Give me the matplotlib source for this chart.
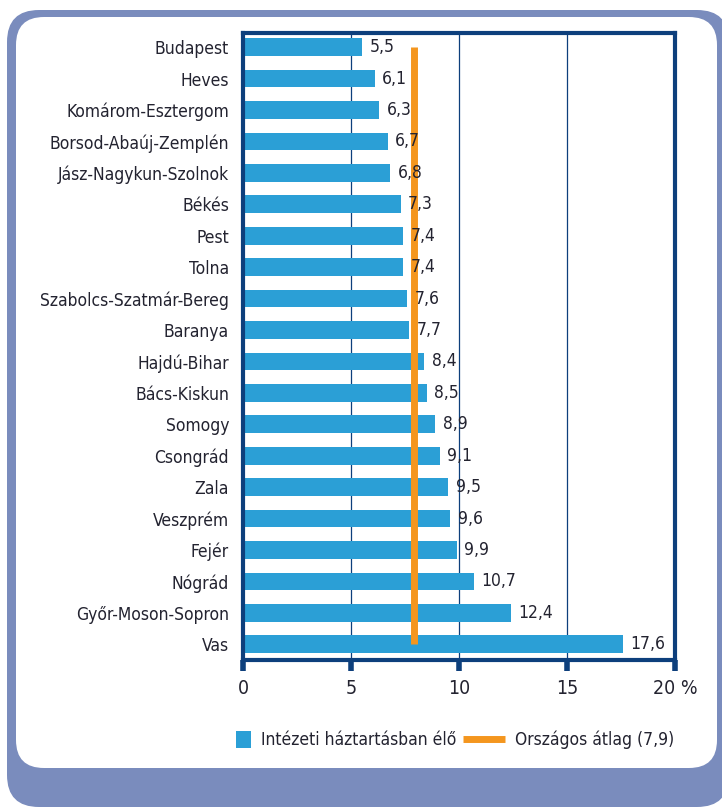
import matplotlib
matplotlib.use("Agg")

import matplotlib.pyplot as plt
from matplotlib.patches import FancyBboxPatch, Patch
from matplotlib.transforms import IdentityTransform
from matplotlib.lines import Line2D

plt.rcParams["font.family"] = ["DejaVu Sans"]
plt.rcParams["font.stretch"] = "condensed"

regions = ["Budapest", "Heves", "Komárom-Esztergom", "Borsod-Abaúj-Zemplén",
           "Jász-Nagykun-Szolnok", "Békés", "Pest", "Tolna",
           "Szabolcs-Szatmár-Bereg", "Baranya", "Hajdú-Bihar", "Bács-Kiskun",
           "Somogy", "Csongrád", "Zala", "Veszprém", "Fejér", "Nógrád",
           "Győr-Moson-Sopron", "Vas"]
values = [5.5, 6.1, 6.3, 6.7, 6.8, 7.3, 7.4, 7.4, 7.6, 7.7,
          8.4, 8.5, 8.9, 9.1, 9.5, 9.6, 9.9, 10.7, 12.4, 17.6]
national_avg = 7.9
x_ticks = [0, 5, 10, 15, 20]
x_ticklabels = ["0", "5", "10", "15", "20 %"]

BAR = "#2b9fd6"
ORANGE = "#f4961e"
NAVY = "#0d3f7c"
FRAME = "#7a8cbd"
TXT = "#232330"

fig = plt.figure(figsize=(7.22, 8.10), dpi=100)

# keret (pixelben, bal alsó sarokból)
outer = FancyBboxPatch((7, 3), 722, 797, boxstyle="round,pad=0,rounding_size=32",
                       transform=IdentityTransform(), facecolor=FRAME,
                       edgecolor="none", zorder=-10)
inner = FancyBboxPatch((16, 42), 701, 751, boxstyle="round,pad=0,rounding_size=28",
                       transform=IdentityTransform(), facecolor="white",
                       edgecolor="none", zorder=-9)
fig.patches.extend([outer, inner])

ax = fig.add_axes([243 / 722, 1 - 660 / 810, 432 / 722, 627 / 810])
ax.set_facecolor("none")

ypos = list(range(len(regions)))
ax.barh(ypos, values, height=0.56, color=BAR, zorder=2)
ax.plot([national_avg, national_avg], [0, len(regions) - 1], color=ORANGE,
        lw=5, solid_capstyle="butt", zorder=3)

for y, v in zip(ypos, values):
    ax.text(v + 0.35, y, f"{v:.1f}".replace(".", ","), va="center", ha="left",
            fontsize=12.5, color=TXT, zorder=4)

ax.set_xlim(0, 20)
ax.set_ylim(len(regions) - 0.5, -0.45)
ax.set_yticks(ypos)
ax.set_yticklabels(regions, fontsize=12.5, color=TXT)
ax.set_xticks(x_ticks)
ax.set_xticklabels(x_ticklabels, fontsize=14, color=TXT)

ax.tick_params(axis="y", length=0, pad=10)
ax.tick_params(axis="x", direction="out", length=8, width=4, color=NAVY, pad=6)

for s in ax.spines.values():
    s.set_color(NAVY)
    s.set_linewidth(3)

ax.grid(axis="x", color=NAVY, lw=0.9, zorder=1)
ax.set_axisbelow(True)

# két külön jelmagyarázat, hogy a kék négyzet rövid legyen
leg_y = 1 - 740 / 810
fig.legend(handles=[Patch(facecolor=BAR, edgecolor="none",
                          label="Intézeti háztartásban élő")],
           loc="center left", bbox_to_anchor=(236 / 722, leg_y), frameon=False,
           fontsize=12.5, handlelength=0.85, handleheight=1.2, handletextpad=0.6,
           borderpad=0, borderaxespad=0, labelcolor=TXT)
fig.legend(handles=[Line2D([], [], color=ORANGE, lw=5, solid_capstyle="butt",
                           label="Országos átlag (7,9)")],
           loc="center left", bbox_to_anchor=(463 / 722, leg_y), frameon=False,
           fontsize=12.5, handlelength=2.4, handletextpad=0.6,
           borderpad=0, borderaxespad=0, labelcolor=TXT)

fig.savefig("out.png", dpi=100)
plt.close(fig)
